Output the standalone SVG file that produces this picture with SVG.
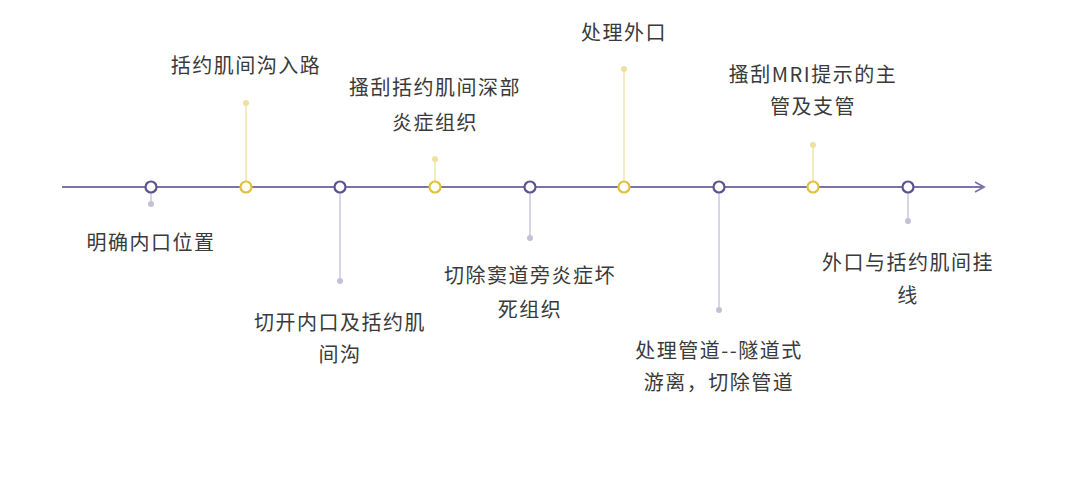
<svg xmlns="http://www.w3.org/2000/svg" width="1080" height="498" viewBox="0 0 1080 498">
<style>
.t{font-family:"Noto Sans CJK SC","Noto Sans",sans-serif;font-size:20px;fill:#3a3a3a;text-anchor:middle;letter-spacing:1.5px}
.np{fill:#fff;stroke:#5d5290;stroke-width:2.2}
.ny{fill:#fff;stroke:#e2c13c;stroke-width:2.2}
.sp{stroke:#cbc8dc;stroke-width:1.5}
.sy{stroke:#f1e6a8;stroke-width:1.5}
.dp{fill:#c4c0d6}
.dy{fill:#efe0a0}
</style>
<rect width="1080" height="498" fill="#fff"/>
<g id="connectors">
<line x1="62" y1="187" x2="984" y2="187" stroke="#7d72aa" stroke-width="1.8"/>
<polyline points="975,182 984,187 975,192" fill="none" stroke="#7d72aa" stroke-width="1.8"/>
<line class="sp" x1="151" y1="187" x2="151" y2="204"/><circle class="dp" cx="151" cy="204" r="3"/>
<line class="sy" x1="246" y1="187" x2="246" y2="103"/><circle class="dy" cx="246" cy="103" r="3"/>
<line class="sp" x1="340" y1="187" x2="340" y2="281"/><circle class="dp" cx="340" cy="281" r="3"/>
<line class="sy" x1="435" y1="187" x2="435" y2="159"/><circle class="dy" cx="435" cy="159" r="3"/>
<line class="sp" x1="530" y1="187" x2="530" y2="238"/><circle class="dp" cx="530" cy="238" r="3"/>
<line class="sy" x1="624" y1="187" x2="624" y2="69"/><circle class="dy" cx="624" cy="69" r="3"/>
<line class="sp" x1="719" y1="187" x2="719" y2="310"/><circle class="dp" cx="719" cy="310" r="3"/>
<line class="sy" x1="813" y1="187" x2="813" y2="145"/><circle class="dy" cx="813" cy="145" r="3"/>
<line class="sp" x1="908" y1="187" x2="908" y2="221"/><circle class="dp" cx="908" cy="221" r="3"/>
</g>
<g id="n1"><circle class="np" cx="151" cy="187" r="5.5"/><text class="t" x="151" y="250">明确内口位置</text></g>
<g id="n2"><circle class="ny" cx="246" cy="187" r="5.5"/><text class="t" x="246" y="73">括约肌间沟入路</text></g>
<g id="n3"><circle class="np" cx="340" cy="187" r="5.5"/><text class="t" x="340" y="330">切开内口及括约肌</text><text class="t" x="340" y="362">间沟</text></g>
<g id="n4"><circle class="ny" cx="435" cy="187" r="5.5"/><text class="t" x="435" y="95">搔刮括约肌间深部</text><text class="t" x="435" y="130">炎症组织</text></g>
<g id="n5"><circle class="np" cx="530" cy="187" r="5.5"/><text class="t" x="530" y="283">切除窦道旁炎症坏</text><text class="t" x="530" y="317">死组织</text></g>
<g id="n6"><circle class="ny" cx="624" cy="187" r="5.5"/><text class="t" x="624" y="40">处理外口</text></g>
<g id="n7"><circle class="np" cx="719" cy="187" r="5.5"/><text class="t" x="719" y="358">处理管道--隧道式</text><text class="t" x="719" y="390">游离，切除管道</text></g>
<g id="n8"><circle class="ny" cx="813" cy="187" r="5.5"/><text class="t" x="813" y="82">搔刮MRI提示的主</text><text class="t" x="813" y="114">管及支管</text></g>
<g id="n9"><circle class="np" cx="908" cy="187" r="5.5"/><text class="t" x="908" y="270">外口与括约肌间挂</text><text class="t" x="908" y="303">线</text></g>
</svg>
